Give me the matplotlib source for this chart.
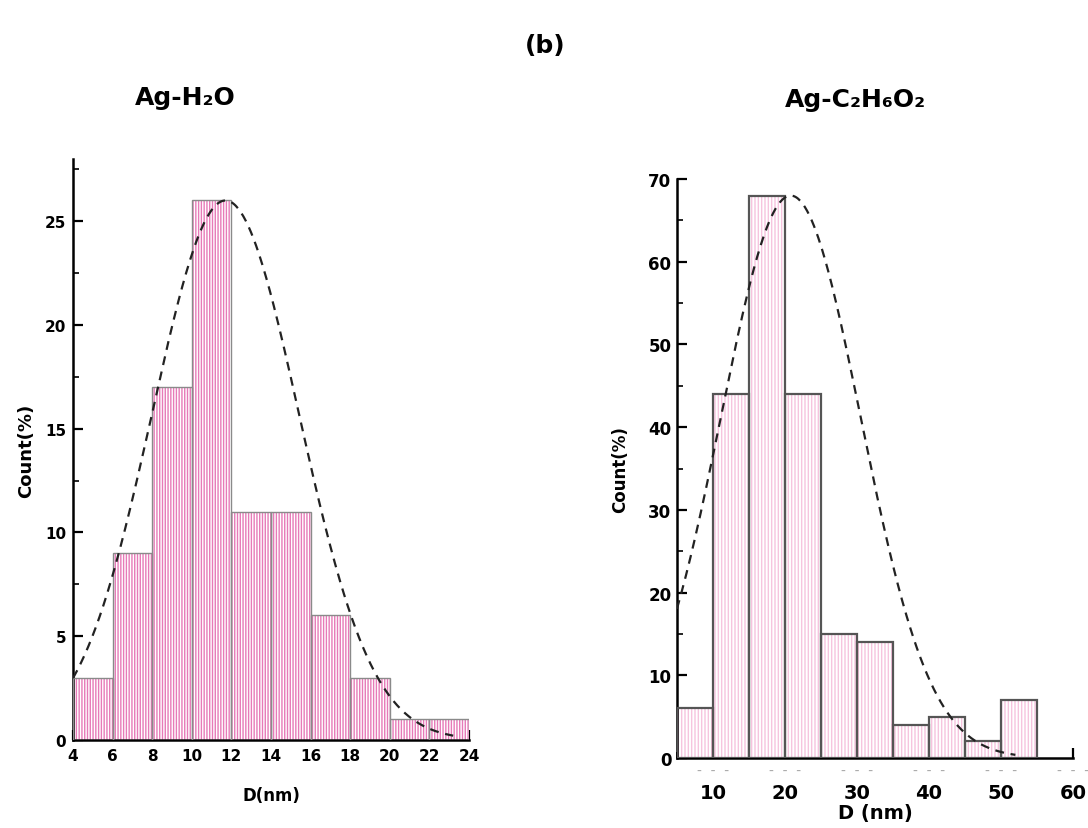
import numpy as np
import matplotlib.pyplot as plt
from matplotlib.ticker import MultipleLocator

# Ag-H2O size distribution
h2o_edges = [4, 6, 8, 10, 12, 14, 16, 18, 20, 22, 24]
h2o_counts = [3, 9, 17, 26, 11, 11, 6, 3, 1, 1]
h2o_fit = (26.0, 11.7, 3.7)      # amplitude, centre, sigma of the gaussian fit
h2o_fit_range = (4.0, 23.2)

# Ag-C2H6O2 size distribution
eg_edges = [5, 10, 15, 20, 25, 30, 35, 40, 45, 50, 55]
eg_counts = [6, 44, 68, 44, 15, 14, 4, 5, 2, 7]
eg_fit = (68.0, 20.8, 9.7)
eg_fit_range = (5.0, 52.0)
eg_xticks = [10, 20, 30, 40, 50, 60]

plt.rcParams['font.family'] = ['DejaVu Sans']
plt.rcParams['font.weight'] = 'bold'


def draw_hist(ax, edges, counts, stripe, edge, lw, hatch):
    left = edges[:-1]
    widths = np.diff(edges)
    ax.bar(left, counts, width=widths, align='edge', color='white',
           edgecolor=stripe, hatch=hatch, linewidth=0, zorder=2)
    ax.bar(left, counts, width=widths, align='edge', fill=False,
           edgecolor=edge, linewidth=lw, zorder=3)


def draw_fit(ax, fit, xr):
    amp, mu, sig = fit
    x = np.linspace(xr[0], xr[1], 300)
    y = amp * np.exp(-(x - mu) ** 2 / (2 * sig ** 2))
    ax.plot(x, y, color='#222222', linestyle=(0, (4, 3)), linewidth=1.6,
            zorder=4)


def style_axes(ax):
    for s in ['top', 'right']:
        ax.spines[s].set_visible(False)
    for s in ['left', 'bottom']:
        ax.spines[s].set_linewidth(1.8)
    ax.tick_params(which='major', direction='in', length=7, width=1.6)
    ax.tick_params(which='minor', direction='in', length=4, width=1.2)


fig = plt.figure(figsize=(10.88, 8.29), dpi=100)

# left panel
ax1 = fig.add_axes([0.0671, 0.1062, 0.364, 0.7008])
draw_hist(ax1, h2o_edges, h2o_counts, '#e77ab8', '#8a8a8a', 1.0, '||||||')
draw_fit(ax1, h2o_fit, h2o_fit_range)
ax1.set_xlim(4, 24)
ax1.set_ylim(0, 28)
ax1.set_xticks(h2o_edges)
ax1.xaxis.set_minor_locator(MultipleLocator(1))
ax1.yaxis.set_major_locator(MultipleLocator(5))
ax1.yaxis.set_minor_locator(MultipleLocator(2.5))
style_axes(ax1)
ax1.tick_params(axis='x', labelsize=11, pad=6)
ax1.tick_params(axis='y', labelsize=11, pad=5)
ax1.set_xlabel('D(nm)', fontsize=12, fontweight='bold', labelpad=16)
ax1.set_ylabel('Count(%)', fontsize=13, fontweight='bold', labelpad=7)

# right panel
ax2 = fig.add_axes([0.6222, 0.0844, 0.364, 0.6984])
draw_hist(ax2, eg_edges, eg_counts, '#f6c4de', '#555555', 1.6, '|||||')
draw_fit(ax2, eg_fit, eg_fit_range)
ax2.set_xlim(5, 60)
ax2.set_ylim(0, 70)
ax2.set_xticks(eg_xticks)
ax2.xaxis.set_minor_locator(MultipleLocator(5))
ax2.yaxis.set_major_locator(MultipleLocator(10))
ax2.yaxis.set_minor_locator(MultipleLocator(5))
style_axes(ax2)
ax2.tick_params(axis='y', labelsize=12, pad=4)
ax2.tick_params(axis='x', labelsize=14, pad=18)
ax2.set_xlabel('D (nm)', fontsize=14, fontweight='bold', labelpad=1)
ax2.set_ylabel('Count(%)', fontsize=12, fontweight='bold', labelpad=14)
# faint leftover tick marks beneath the right axis
for xt in eg_xticks:
    ax2.text(xt, -0.008, '-  -  -', transform=ax2.get_xaxis_transform(),
             ha='center', va='top', fontsize=10, color='#a8a8a8',
             fontweight='normal', clip_on=False)

fig.text(0.501, 0.945, '(b)', ha='center', va='center', fontsize=18,
         fontweight='bold')
fig.text(0.170, 0.882, 'Ag-H₂O', ha='center', va='center', fontsize=18,
         fontweight='bold')
fig.text(0.786, 0.879, 'Ag-C₂H₆O₂', ha='center', va='center', fontsize=18,
         fontweight='bold')

fig.savefig('out.png', dpi=100)
